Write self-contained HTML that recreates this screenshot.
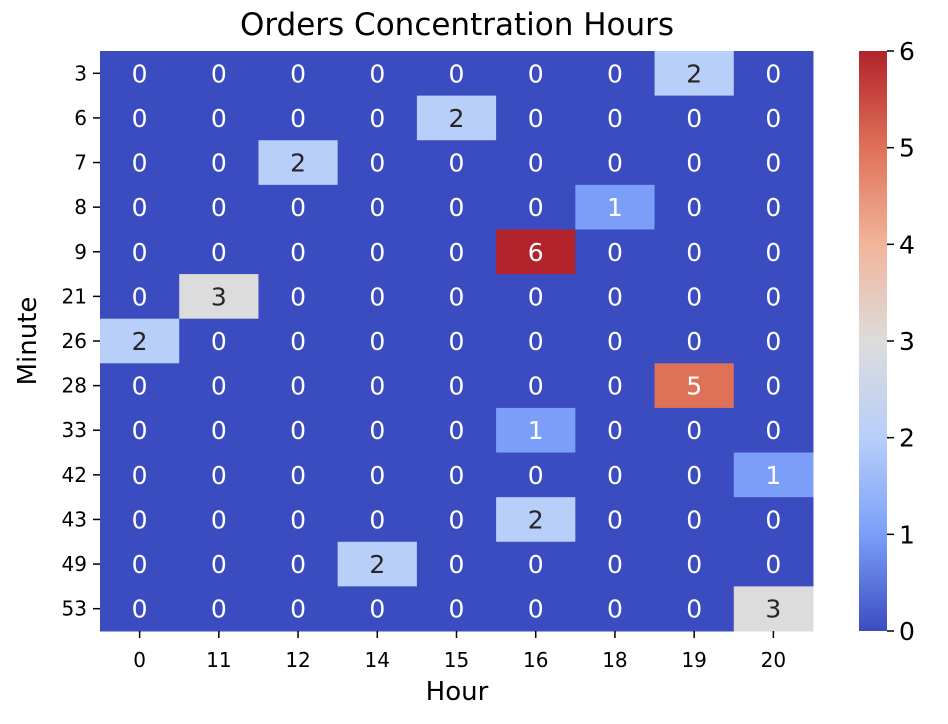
<!DOCTYPE html>
<html><head><meta charset="utf-8"><style>
body{margin:0;background:#fff;font-family:"DejaVu Sans","Liberation Sans",sans-serif;}
</style></head><body>
<svg id="chart" width="948" height="720" xmlns="http://www.w3.org/2000/svg" font-family="DejaVu Sans, Liberation Sans, sans-serif">
<defs>
<linearGradient id="cw" x1="0" y1="1" x2="0" y2="0">
<stop offset="0" stop-color="#3b4cc0"/><stop offset="0.1667" stop-color="#7b9ff9"/>
<stop offset="0.3333" stop-color="#b7cff9"/><stop offset="0.5" stop-color="#dddcdc"/>
<stop offset="0.6667" stop-color="#f2b49b"/><stop offset="0.8333" stop-color="#de7158"/>
<stop offset="1" stop-color="#b2232c"/>
</linearGradient>
</defs>
<text x="457" y="35" font-size="31" text-anchor="middle">Orders Concentration Hours</text>
<g id="cells"></g>
<g id="axes"></g>
<rect x="859" y="51" width="28" height="580" fill="url(#cw)"/>
<g id="cbar"></g>
<text x="457" y="700" font-size="26" text-anchor="middle">Hour</text>
<text x="36" y="341" font-size="26" text-anchor="middle" transform="rotate(-90 36 341)">Minute</text>
</svg>
<script>
const hours=["0","11","12","14","15","16","18","19","20"];
const minutes=["3","6","7","8","9","21","26","28","33","42","43","49","53"];
const values=[
[0,0,0,0,0,0,0,2,0],
[0,0,0,0,2,0,0,0,0],
[0,0,2,0,0,0,0,0,0],
[0,0,0,0,0,0,1,0,0],
[0,0,0,0,0,6,0,0,0],
[0,3,0,0,0,0,0,0,0],
[2,0,0,0,0,0,0,0,0],
[0,0,0,0,0,0,0,5,0],
[0,0,0,0,0,1,0,0,0],
[0,0,0,0,0,0,0,0,1],
[0,0,0,0,0,2,0,0,0],
[0,0,0,2,0,0,0,0,0],
[0,0,0,0,0,0,0,0,3]];
const cbTicks=[0,1,2,3,4,5,6];
const NS="http://www.w3.org/2000/svg";
const X0=100,X1=813,Y0=51,Y1=631,VMAX=6;
const cw=(X1-X0)/hours.length, ch=(Y1-Y0)/minutes.length;
const xPos=i=>X0+i*cw, yPos=j=>Y0+j*ch;
const cbY=v=>Y1-(v/VMAX)*(Y1-Y0);
const stops=[[0,[59,76,192]],[1,[123,159,249]],[2,[183,207,249]],[3,[221,220,220]],[4,[242,180,155]],[5,[222,113,88]],[6,[178,35,44]]];
function color(v){for(let k=0;k<stops.length-1;k++){const a=stops[k],b=stops[k+1];if(v<=b[0]){const t=(v-a[0])/(b[0]-a[0]);return `rgb(${a[1].map((c,i)=>Math.round(c+(b[1][i]-c)*t)).join(",")})`;}}return "rgb(178,35,44)";}
function mk(tag,attrs,parent){const e=document.createElementNS(NS,tag);for(const k in attrs)e.setAttribute(k,attrs[k]);parent.appendChild(e);return e;}
const cells=document.getElementById('cells'),axes=document.getElementById('axes'),cbar=document.getElementById('cbar');
values.forEach((row,j)=>row.forEach((v,i)=>{
 const r=mk('rect',{x:xPos(i),y:yPos(j),width:cw+0.5,height:ch+0.5,fill:color(v)},cells);
 
 
 const t=mk('text',{x:xPos(i)+cw/2,y:yPos(j)+ch/2+9,'font-size':25,'text-anchor':'middle',fill:(v>=2&&v<=4)?'#262626':'#fff'},cells);
 t.textContent=v;
 
 
}));
hours.forEach((h,i)=>{const x=xPos(i)+cw/2;
 mk('line',{x1:x,x2:x,y1:Y1,y2:Y1+7,stroke:'#000','stroke-width':1.5},axes);
 const t=mk('text',{x:x,y:Y1+36,'font-size':20,'text-anchor':'middle'},axes);t.textContent=h;
 
 });
minutes.forEach((m,j)=>{const y=yPos(j)+ch/2;
 mk('line',{x1:X0-7,x2:X0,y1:y,y2:y,stroke:'#000','stroke-width':1.5},axes);
 const t=mk('text',{x:X0-13,y:y+7,'font-size':20,'text-anchor':'end'},axes);t.textContent=m;
 
 });
cbTicks.forEach(v=>{const y=cbY(v);
 mk('line',{x1:887,x2:894,y1:y,y2:y,stroke:'#000','stroke-width':1.5},cbar);
 const t=mk('text',{x:899,y:y+9,'font-size':25},cbar);t.textContent=v;
 
 });
</script>
</body></html>
